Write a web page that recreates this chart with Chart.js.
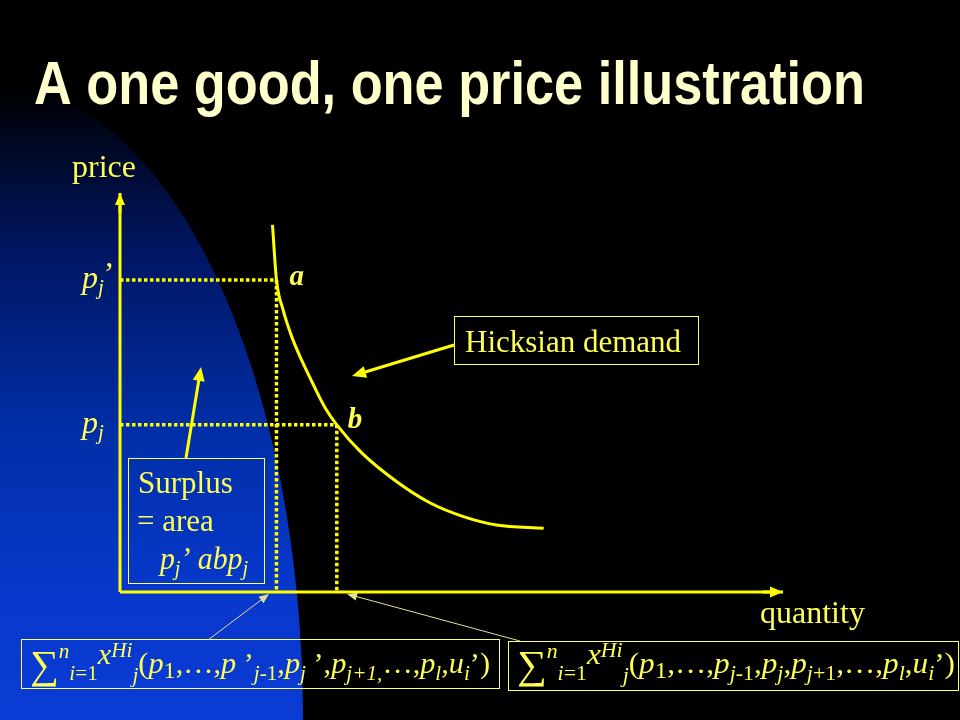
<!DOCTYPE html>
<html><head><meta charset="utf-8">
<script src="https://cdn.jsdelivr.net/npm/chart.js@4/dist/chart.umd.min.js"></script>
<style>html,body{margin:0;padding:0;background:#000;}canvas{display:block;}</style>
</head><body>
<canvas id="c" width="960" height="720"></canvas>
<script>
// ---- data (quantity / price units) ----
const demandQty   = [2.30, 2.36, 2.46, 2.59, 2.74, 2.93, 3.10, 3.27, 3.65, 4.17, 4.68, 5.18, 5.68, 6.39];
const demandPrice = [9.20, 7.82, 7.07, 6.40, 5.81, 5.15, 4.60, 4.19, 3.48, 2.77, 2.23, 1.89, 1.68, 1.60];
const pointLabels = ['a', 'b'];
const pointQty    = [2.36, 3.27];
const pointPrice  = [7.82, 4.19];
const axisMax     = [10, 10];
const axisTitles  = ['quantity', 'price'];
const titleText   = 'A one good, one price illustration';

const YEL = '#ffff00', TXT = '#ffff55', BOX = '#ffff66';
const SERIF = '"Liberation Serif","Times New Roman",serif';

function arrow(ctx, x1, y1, x2, y2, w, hl, hw, col) {
  const a = Math.atan2(y2 - y1, x2 - x1);
  ctx.save();
  ctx.strokeStyle = col; ctx.fillStyle = col; ctx.lineWidth = w;
  ctx.beginPath(); ctx.moveTo(x1, y1);
  ctx.lineTo(x2 - Math.cos(a) * hl * 0.8, y2 - Math.sin(a) * hl * 0.8); ctx.stroke();
  ctx.beginPath(); ctx.moveTo(x2, y2);
  ctx.lineTo(x2 - Math.cos(a) * hl - Math.sin(a) * hw, y2 - Math.sin(a) * hl + Math.cos(a) * hw);
  ctx.lineTo(x2 - Math.cos(a) * hl + Math.sin(a) * hw, y2 - Math.sin(a) * hl - Math.cos(a) * hw);
  ctx.closePath(); ctx.fill();
  ctx.restore();
}

function runs(ctx, list, x, y, target, base) {
  const font = r => `${r.i ? 'italic ' : ''}${r.b ? 'bold ' : ''}${r.s || base}px ${SERIF}`;
  let w = 0;
  list.forEach(r => { ctx.font = font(r); w += ctx.measureText(r.t).width; });
  const k = target ? target / w : 1;
  ctx.save(); ctx.translate(x, y); ctx.scale(k, 1);
  ctx.textBaseline = 'alphabetic'; ctx.textAlign = 'left';
  let cx = 0;
  list.forEach(r => { ctx.font = font(r); ctx.fillText(r.t, cx, r.dy || 0); cx += ctx.measureText(r.t).width; });
  ctx.restore();
}

const SUB = 7, SS = 21;
const formula1 = [
  {t:'∑', s:40, dy:5}, {t:'n', s:SS, i:1, dy:-15}, {t:'i', s:SS, i:1, dy:SUB}, {t:'=1', s:SS, dy:SUB},
  {t:'x', i:1, dy:-9}, {t:'Hi', s:SS, i:1, dy:-16}, {t:'j', s:SS, i:1, dy:9},
  {t:'('}, {t:'p', i:1}, {t:'1', s:24, dy:5}, {t:',…,'}, {t:'p', i:1}, {t:' ’'},
  {t:'j', s:SS, i:1, dy:SUB}, {t:'-1', s:SS, dy:SUB}, {t:','}, {t:'p', i:1}, {t:'j', s:SS, i:1, dy:SUB},
  {t:' ’'}, {t:','}, {t:'p', i:1}, {t:'j+1,', s:SS, i:1, dy:SUB}, {t:'…,'}, {t:'p', i:1},
  {t:'l', s:SS, i:1, dy:SUB}, {t:','}, {t:'u', i:1}, {t:'i', s:SS, i:1, dy:SUB}, {t:'’)'}
];
const formula2 = [
  {t:'∑', s:40, dy:5}, {t:'n', s:SS, i:1, dy:-15}, {t:'i', s:SS, i:1, dy:SUB}, {t:'=1', s:SS, dy:SUB},
  {t:'x', i:1, dy:-9}, {t:'Hi', s:SS, i:1, dy:-16}, {t:'j', s:SS, i:1, dy:9},
  {t:'('}, {t:'p', i:1}, {t:'1', s:24, dy:5}, {t:',…,'}, {t:'p', i:1},
  {t:'j', s:SS, i:1, dy:SUB}, {t:'-1', s:SS, dy:SUB}, {t:','}, {t:'p', i:1}, {t:'j', s:SS, i:1, dy:SUB},
  {t:','}, {t:'p', i:1}, {t:'j', s:SS, i:1, dy:SUB}, {t:'+1', s:SS, dy:SUB}, {t:',…,'}, {t:'p', i:1},
  {t:'l', s:SS, i:1, dy:SUB}, {t:','}, {t:'u', i:1}, {t:'i', s:SS, i:1, dy:SUB}, {t:'’)'}
];

const slidePlugin = {
  id: 'slide',
  beforeDraw(chart) {
    const ctx = chart.ctx;
    ctx.save();
    ctx.fillStyle = '#000'; ctx.fillRect(0, 0, 960, 720);
    const g = ctx.createLinearGradient(0, 87, 0, 720);
    g.addColorStop(0, '#000000');
    g.addColorStop(0.25, '#001560');
    g.addColorStop(0.55, '#002fa8');
    g.addColorStop(0.8, '#0838cc');
    g.addColorStop(1, '#0a3bd4');
    ctx.fillStyle = g;
    ctx.beginPath(); ctx.ellipse(0, 720, 303, 633, 0, 0, Math.PI * 2); ctx.fill();
    // title (condensed bold sans)
    ctx.fillStyle = '#ffffcc';
    ctx.font = 'bold 62px "Liberation Sans Narrow","Liberation Sans",Arial,sans-serif';
    ctx.textBaseline = 'alphabetic';
    const w = ctx.measureText(titleText).width;
    ctx.translate(34, 104); ctx.scale(831 / w, 1);
    ctx.fillText(titleText, 0, 0);
    ctx.restore();
  },
  afterDatasetsDraw(chart) {
    const ctx = chart.ctx, xs = chart.scales.x, ys = chart.scales.y;
    const X = v => xs.getPixelForValue(v), Y = v => ys.getPixelForValue(v);
    ctx.save();
    // axis arrowheads
    arrow(ctx, X(0), Y(axisMax[1]) + 20, X(0), Y(axisMax[1]), 3, 12, 5, YEL);
    arrow(ctx, X(axisMax[0]) - 20, Y(0), X(axisMax[0]), Y(0), 3, 13, 5.5, YEL);
    ctx.fillStyle = TXT; ctx.textBaseline = 'alphabetic';
    ctx.font = `32px ${SERIF}`;
    ctx.fillText(axisTitles[1], X(0) - 48, Y(axisMax[1]) - 16);
    ctx.fillText(axisTitles[0], X(axisMax[0]) - 23, Y(0) + 31);
    // point labels a, b
    ctx.font = `italic bold 29px ${SERIF}`;
    ctx.fillText(pointLabels[0], X(pointQty[0]) + 13, Y(pointPrice[0]) + 5);
    ctx.fillText(pointLabels[1], X(pointQty[1]) + 11, Y(pointPrice[1]) + 3);
    // price labels p_j', p_j
    runs(ctx, [{t:'p', i:1}, {t:'j', s:21, i:1, dy:6}, {t:'’', dy:-4}], X(0) - 38, Y(pointPrice[0]) + 8, 0, 32);
    runs(ctx, [{t:'p', i:1}, {t:'j', s:21, i:1, dy:6}], X(0) - 38, Y(pointPrice[1]) + 8, 0, 32);
    // Hicksian demand box
    ctx.strokeStyle = BOX; ctx.lineWidth = 1;
    ctx.strokeRect(454.5, 316.5, 244, 48);
    ctx.font = `31px ${SERIF}`;
    ctx.fillText('Hicksian demand', 465, 352);
    arrow(ctx, 454, 345, 352, 376, 3, 14, 6, YEL);
    // Surplus box
    ctx.strokeRect(128.5, 458.5, 136, 125);
    ctx.font = `31px ${SERIF}`;
    ctx.fillText('Surplus', 138, 493);
    ctx.fillText('= area', 137, 531);
    runs(ctx, [{t:'p', i:1}, {t:'j', s:21, i:1, dy:6}, {t:'’ abp', i:1}, {t:'j', s:21, i:1, dy:6}], 160, 569, 88, 31);
    arrow(ctx, 186, 458, 201, 367, 3, 14, 6, YEL);
    // bottom formula boxes
    ctx.strokeRect(21.5, 639.5, 478, 49);
    ctx.strokeRect(508.5, 641.5, 450, 49);
    ctx.fillStyle = TXT;
    runs(ctx, formula1, 30, 673, 460, 30);
    runs(ctx, formula2, 517, 673, 438, 30);
    // thin pointer lines
    arrow(ctx, 208, 640, 269, 594, 1, 10, 4, '#e0e098');
    arrow(ctx, 520, 641, 347, 594, 1, 10, 4, '#e0e098');
    ctx.restore();
  }
};

const curve = demandQty.map((q, i) => ({x: q, y: demandPrice[i]}));
const lineDs = (data, extra) => Object.assign({
  data, borderColor: YEL, borderWidth: 3, pointRadius: 0, showLine: true, clip: false, tension: 0, fill: false
}, extra || {});
const dash = {borderDash: [3.5, 2.5], borderWidth: 3.5, borderCapStyle: 'butt'};

new Chart(document.getElementById('c'), {
  type: 'scatter',
  data: {
    datasets: [
      lineDs([{x: 0, y: pointPrice[0]}, {x: pointQty[0], y: pointPrice[0]}], dash),
      lineDs([{x: pointQty[0], y: pointPrice[0]}, {x: pointQty[0], y: 0}], dash),
      lineDs([{x: 0, y: pointPrice[1]}, {x: pointQty[1], y: pointPrice[1]}], dash),
      lineDs([{x: pointQty[1], y: pointPrice[1]}, {x: pointQty[1], y: 0}], dash),
      lineDs([{x: 0, y: 0}, {x: 0, y: axisMax[1]}]),
      lineDs([{x: 0, y: 0}, {x: axisMax[0], y: 0}]),
      lineDs(curve, {cubicInterpolationMode: 'monotone'})
    ]
  },
  options: {
    responsive: false, animation: false, devicePixelRatio: 1, events: [],
    layout: {padding: {left: 120, right: 177, top: 193, bottom: 128}},
    scales: {
      x: {type: 'linear', min: 0, max: axisMax[0], display: false},
      y: {type: 'linear', min: 0, max: axisMax[1], display: false}
    },
    plugins: {legend: {display: false}, tooltip: {enabled: false}}
  },
  plugins: [slidePlugin]
});
</script>
</body></html>
